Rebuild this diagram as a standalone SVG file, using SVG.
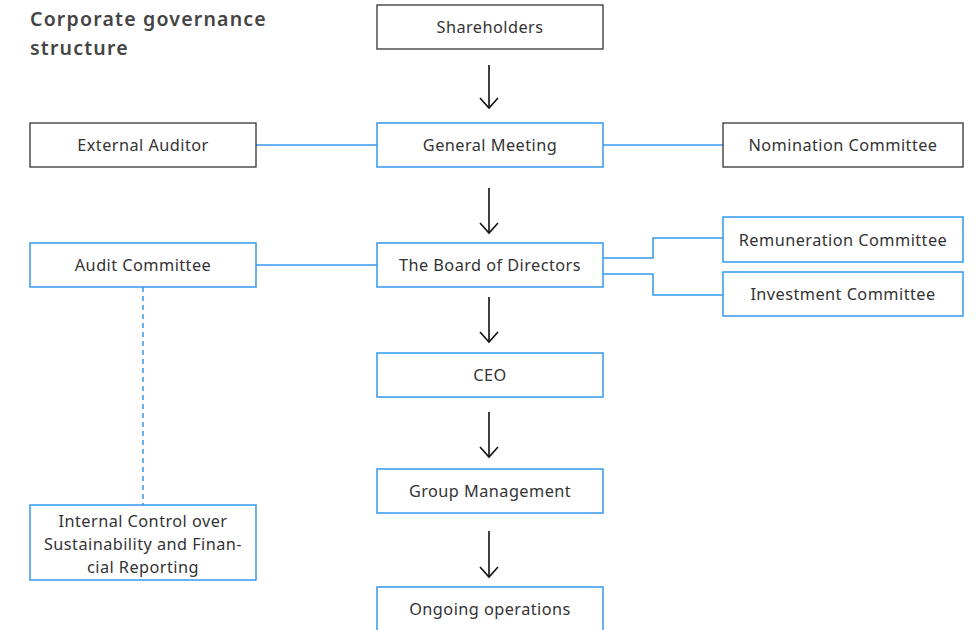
<svg xmlns="http://www.w3.org/2000/svg" width="976" height="630" viewBox="0 0 976 630">
<defs>
<style>
.b{fill:#fff;stroke:#333;stroke-width:1.3}
.bl{fill:#fff;stroke:#3399ee;stroke-width:1.5}
.t{font-family:"Noto Sans","Liberation Sans",sans-serif;font-size:16.3px;fill:#333;text-anchor:middle;letter-spacing:0.45px}
.c{fill:none;stroke:#3399ee;stroke-width:1.5}
.a{fill:none;stroke:#111;stroke-width:1.6}
.h{font-family:"Noto Sans","Liberation Sans",sans-serif;font-size:19.5px;font-weight:600;fill:#444;letter-spacing:1.2px}
</style>
<marker id="ah" viewBox="0 0 20 20" refX="18" refY="10" markerWidth="20" markerHeight="20" markerUnits="userSpaceOnUse" orient="auto">
<path d="M8,1 L18,10 L8,19" fill="none" stroke="#111" stroke-width="1.6"/>
</marker>
</defs>
<rect width="976" height="630" fill="#fff"/>
<text class="h" x="30" y="26">Corporate governance</text>
<text class="h" x="30" y="55">structure</text>
<g id="connectors">
<line class="c" x1="256" y1="145" x2="377" y2="145"/>
<line class="c" x1="603" y1="145" x2="723" y2="145"/>
<line class="c" x1="256" y1="265" x2="377" y2="265"/>
<polyline class="c" points="603,258 653,258 653,238 723,238"/>
<polyline class="c" points="603,274 653,274 653,295 723,295"/>
<line class="c" x1="143" y1="287" x2="143" y2="505" stroke-dasharray="5,4"/>
<line class="a" x1="489" y1="65" x2="489" y2="108" marker-end="url(#ah)"/>
<line class="a" x1="489" y1="188" x2="489" y2="233" marker-end="url(#ah)"/>
<line class="a" x1="489" y1="297" x2="489" y2="342" marker-end="url(#ah)"/>
<line class="a" x1="489" y1="412" x2="489" y2="457" marker-end="url(#ah)"/>
<line class="a" x1="489" y1="531" x2="489" y2="577" marker-end="url(#ah)"/>
</g>
<g id="shareholders"><rect class="b" x="377" y="5" width="226" height="44"/><text class="t" x="490" y="33">Shareholders</text></g>
<g id="general-meeting"><rect class="bl" x="377" y="123" width="226" height="44"/><text class="t" x="490" y="151">General Meeting</text></g>
<g id="external-auditor"><rect class="b" x="30" y="123" width="226" height="44"/><text class="t" x="143" y="151">External Auditor</text></g>
<g id="nomination-committee"><rect class="b" x="723" y="123" width="240" height="44"/><text class="t" x="843" y="151">Nomination Committee</text></g>
<g id="board"><rect class="bl" x="377" y="243" width="226" height="44"/><text class="t" x="490" y="271">The Board of Directors</text></g>
<g id="audit-committee"><rect class="bl" x="30" y="243" width="226" height="44"/><text class="t" x="143" y="271">Audit Committee</text></g>
<g id="remuneration-committee"><rect class="bl" x="723" y="217" width="240" height="45"/><text class="t" x="843" y="246">Remuneration Committee</text></g>
<g id="investment-committee"><rect class="bl" x="723" y="272" width="240" height="44"/><text class="t" x="843" y="300">Investment Committee</text></g>
<g id="ceo"><rect class="bl" x="377" y="353" width="226" height="44"/><text class="t" x="490" y="381">CEO</text></g>
<g id="group-management"><rect class="bl" x="377" y="469" width="226" height="44"/><text class="t" x="490" y="497">Group Management</text></g>
<g id="ongoing-operations"><rect class="bl" x="377" y="587" width="226" height="50"/><text class="t" x="490" y="615">Ongoing operations</text></g>
<g id="internal-control"><rect class="bl" x="30" y="505" width="226" height="75"/>
<text class="t" x="143" y="527">Internal Control over</text>
<text class="t" x="143" y="550">Sustainability and Finan-</text>
<text class="t" x="143" y="573">cial Reporting</text></g>
</svg>
